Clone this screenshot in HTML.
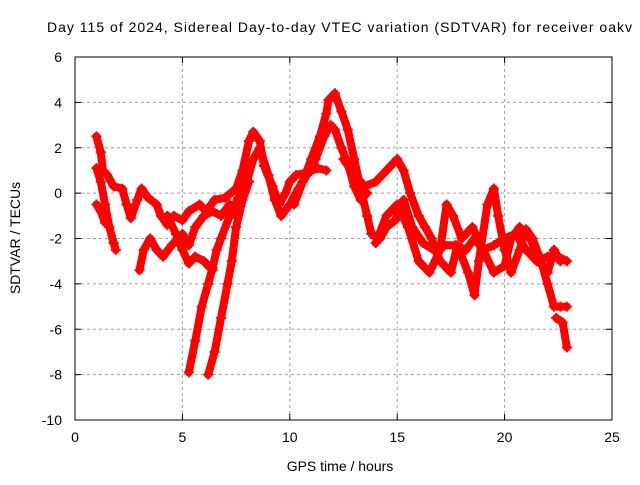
<!DOCTYPE html>
<html><head><meta charset="utf-8"><style>
body{margin:0;background:#fff}
svg text{font-family:"Liberation Sans",sans-serif;font-size:14px;fill:#000}
</style></head><body>
<svg id="chart" width="640" height="480">
<text x="47" y="32" textLength="585" lengthAdjust="spacing">Day 115 of 2024, Sidereal Day-to-day VTEC variation (SDTVAR) for receiver oakv</text>
<text x="340" y="471" text-anchor="middle">GPS time / hours</text>
<text transform="translate(20,238) rotate(-90)" text-anchor="middle">SDTVAR / TECUs</text>
<g id="grid"></g><g id="marks"></g>
<rect x="75" y="57" width="537" height="363" fill="none" stroke="#000" stroke-width="1"/>
</svg>
<script>
const xTicks=[0,5,10,15,20,25];
const yTicks=[6,4,2,0,-2,-4,-6,-8,-10];
const t1=[[1.0,2.5],[1.2,1.8],[1.3,1.0],[1.5,0.8],[1.8,0.3],[2.2,0.2],[2.4,-0.5],[2.6,-1.1],[2.9,-0.3],[3.1,0.2],[3.4,-0.2],[3.8,-0.5],[4.0,-1.0],[4.3,-1.4],[4.6,-1.0],[5.0,-1.2],[5.3,-0.8],[5.8,-0.5],[6.1,-0.8],[6.5,-0.3],[7.0,-0.2],[7.5,0.2],[7.8,1.0],[8.1,2.3],[8.3,2.7],[8.6,2.3],[8.8,1.2],[9.2,0.3],[9.5,-0.5],[9.8,0.0],[10.0,0.5],[10.3,0.8],[10.8,0.9],[11.3,1.1],[11.7,1.0]];
const t2=[[1.0,1.1],[1.2,0.5],[1.4,-0.5],[1.6,-1.5],[1.8,-2.2],[1.9,-2.5]];
const t3=[[1.0,-0.5],[1.2,-0.8],[1.4,-1.3]];
const t4=[[3.0,-3.4],[3.2,-2.5],[3.5,-2.0],[3.8,-2.5],[4.1,-2.8],[4.5,-2.3],[5.0,-1.8],[5.3,-2.3],[5.6,-1.5],[6.0,-1.0],[6.4,-0.8],[6.8,-1.0],[7.2,-0.5],[7.5,-1.0]];
const t5=[[4.3,-1.0],[4.7,-1.8],[5.0,-2.5],[5.3,-3.1],[5.6,-2.8],[6.0,-3.0],[6.4,-3.4]];
const t6=[[5.3,-7.9],[5.6,-6.5],[5.9,-5.0],[6.2,-4.0],[6.4,-3.3],[6.6,-2.5],[6.8,-2.0],[7.2,-1.0],[7.6,-0.2],[8.0,0.5],[8.3,1.5],[8.6,2.0],[9.0,0.8],[9.3,-0.3],[9.6,-1.0],[10.0,-0.5],[10.4,0.2],[10.8,0.8],[11.2,1.5],[11.6,2.5],[11.9,3.0],[12.1,2.8],[12.4,2.0],[12.7,1.3],[13.0,0.3],[13.3,-0.3],[13.6,0.0]];
const t7=[[6.2,-8.0],[6.5,-7.0],[6.8,-5.5],[7.1,-4.0],[7.3,-3.0],[7.5,-1.5],[7.8,-0.3],[8.1,0.5]];
const t8=[[10.2,-0.5],[10.6,0.5],[11.0,1.5],[11.4,2.5],[11.7,3.5],[11.8,4.1],[12.1,4.4],[12.4,3.6],[12.7,2.8],[13.0,1.5],[13.3,0.2],[13.6,-1.0],[13.8,-1.8],[14.2,-2.0],[14.5,-1.5],[14.9,-1.2],[15.3,-0.3],[15.7,-1.5],[16.2,-2.2],[16.7,-2.5],[17.2,-2.3],[17.7,-2.3],[18.2,-2.5],[18.6,-2.0],[19.0,-2.5],[19.5,-2.3],[20.0,-2.0],[20.5,-1.8],[21.0,-2.5],[21.5,-3.0],[22.0,-2.8],[22.5,-2.8],[22.9,-3.0]];
const t9=[[12.5,1.5],[13.0,0.8],[13.5,0.3],[14.0,0.5],[14.5,1.0],[15.0,1.5],[15.3,1.0],[15.6,0],[16.0,-1.0],[16.3,-1.5],[16.6,-2.0],[17.0,-3.0],[17.5,-3.5],[17.8,-2.3],[18.3,-3.5],[18.6,-4.5],[18.8,-3.0],[19.2,-0.5],[19.5,0.2],[19.7,-1.0],[20.0,-2.5],[20.3,-3.5],[20.7,-2.5],[21.0,-1.6],[21.3,-2.0],[21.7,-3.0],[22.0,-4.0],[22.3,-5.0],[22.6,-5.0],[22.9,-5.0]];
const t10=[[14.0,-2.2],[14.5,-1.0],[15.0,-0.5],[15.5,-1.5],[16.0,-3.0],[16.5,-3.5],[17.0,-2.5],[17.3,-0.5],[17.6,-1.0],[18.0,-2.0],[18.5,-1.5],[19.0,-2.5],[19.5,-3.5],[20.0,-3.2],[20.3,-2.0],[20.7,-1.5],[21.2,-2.0],[21.6,-3.0],[22.0,-3.5],[22.3,-2.5],[22.6,-3.0]];
const t11=[[22.4,-5.5],[22.7,-5.7],[22.9,-6.8]];
const tracks=[t1,t2,t3,t4,t5,t6,t7,t8,t9,t10,t11];
const X=v=>75+v*537/25, Y=v=>57+(6-v)*363/16;
const NS='http://www.w3.org/2000/svg';
const grid=document.getElementById('grid'), marks=document.getElementById('marks');
function mk(tag,attrs,parent){const e=document.createElementNS(NS,tag);for(const k in attrs)e.setAttribute(k,attrs[k]);parent.appendChild(e);return e;}
xTicks.forEach(v=>{
 const x=X(v);
 if(v>0&&v<25){const g=mk('line',{x1:x,x2:x,y1:57,y2:420,stroke:'#a0a0a0','stroke-dasharray':'3,3'},grid);
 
 }
 const t=mk('line',{x1:x,x2:x,y1:420,y2:414,stroke:'#000'},grid);
 
 
 const t2_=mk('line',{x1:x,x2:x,y1:57,y2:63,stroke:'#000'},grid);
 
 
 const l=mk('text',{x:x,y:442,'text-anchor':'middle'},grid);l.textContent=v;
 
 
});
yTicks.forEach(v=>{
 const y=Y(v);
 if(v>-10&&v<6){const g=mk('line',{x1:75,x2:612,y1:y,y2:y,stroke:'#a0a0a0','stroke-dasharray':'3,3'},grid);
 
 }
 const t=mk('line',{x1:75,x2:81,y1:y,y2:y,stroke:'#000'},grid);
 
 
 const t2_=mk('line',{x1:606,x2:612,y1:y,y2:y,stroke:'#000'},grid);
 
 
 const l=mk('text',{x:62,y:y+5,'text-anchor':'end'},grid);l.textContent=v;
 
 
});
tracks.forEach(tr=>{
 const p=mk('polyline',{points:tr.map(d=>X(d[0])+','+Y(d[1])).join(' '),fill:'none',stroke:'#ff0000','stroke-width':8,'stroke-linejoin':'round','stroke-linecap':'round'},marks);
 
 
 tr.forEach(d=>{
  const x=X(d[0]),y=Y(d[1]);
  const m=mk('path',{d:`M${x-5},${y}H${x+5}M${x},${y-5}V${y+5}`,stroke:'#ff0000','stroke-width':2},marks);
  
  
 });
});
</script>
</body></html>
